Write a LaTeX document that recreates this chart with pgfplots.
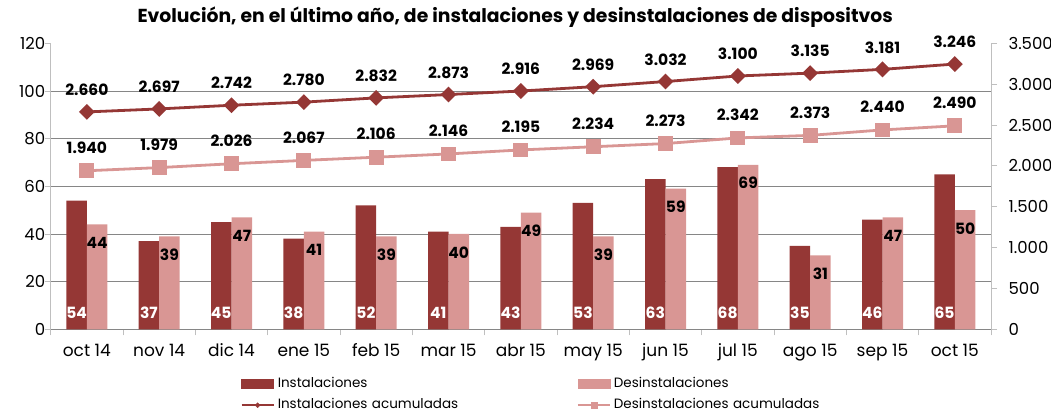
\documentclass[border=0pt]{standalone}
\usepackage{pgfplots}
\pgfplotsset{compat=1.18}
\usepackage{fontspec}
\setmainfont{Poppins}
\definecolor{dark}{HTML}{953735}
\definecolor{pinkc}{HTML}{D99694}
\definecolor{gridc}{HTML}{868686}
\definecolor{axc}{HTML}{BFBFBF}
\begin{document}
\begin{tikzpicture}[x=1pt,y=1pt]
\path[use as bounding box] (0,0) rectangle (1051,412);
\begin{axis}[
  at={(50.7pt,82.7pt)}, anchor=south west,
  scale only axis, width=940.3pt, height=286pt,
  xmin=-0.5, xmax=12.5, ymin=0, ymax=120,
  ybar=0pt, bar width=20.5pt,
  axis x line*=bottom, axis y line*=left,
  x axis line style={gridc, line width=0.8pt},
  y axis line style={axc, line width=0.8pt},
  tick align=outside,
  major tick length=6pt,
  ytick={0,20,...,120},
  y tick style={axc, line width=0.8pt},
  yticklabel style={xshift=4pt},
  extra y ticks={20,40,60,80,100},
  extra y tick labels={},
  extra y tick style={grid=major, major tick length=0pt},
  major grid style={gridc, line width=0.9pt},
  xtick={-0.5,0.5,...,12.5},
  xticklabels={},
  x tick style={axc, line width=0.8pt},
  extra x ticks={0,1,2,3,4,5,6,7,8,9,10,11,12},
  extra x tick labels={oct 14,nov 14,dic 14,ene 15,feb 15,mar 15,abr 15,may 15,jun 15,jul 15,ago 15,sep 15,oct 15},
  extra x tick style={major tick length=0pt, xticklabel style={yshift=-11pt, font=\fontsize{17}{19}\selectfont}},
  tick label style={font=\fontsize{16.5}{18}\selectfont},
  /pgf/number format/assume math mode=true,
  title={Evolución, en el último año, de instalaciones y desinstalaciones de dispositvos},
  title style={at={(0.494,1)}, anchor=base, yshift=15pt, font=\bfseries\fontsize{18.8}{21}\selectfont},
  clip=false,
]
\addplot[fill=dark, draw=none,
  nodes near coords,
  visualization depends on=y \as \rawy,
  every node near coord/.append style={text=white, font=\bfseries\fontsize{15.5}{18}\selectfont, anchor=center, shift={(axis direction cs:0,-\rawy)}, yshift=16.3pt}]
  coordinates {(0,54) (1,37) (2,45) (3,38) (4,52) (5,41) (6,43) (7,53) (8,63) (9,68) (10,35) (11,46) (12,65)};
\addplot[fill=pinkc, draw=none,
  nodes near coords,
  every node near coord/.append style={text=black, font=\bfseries\fontsize{15.5}{18}\selectfont, anchor=center, yshift=-18.3pt}]
  coordinates {(0,44) (1,39) (2,47) (3,41) (4,39) (5,40) (6,49) (7,39) (8,59) (9,69) (10,31) (11,47) (12,50)};
\end{axis}
\begin{axis}[
  at={(50.7pt,82.7pt)}, anchor=south west,
  scale only axis, width=940.3pt, height=286pt,
  xmin=-0.5, xmax=12.5, ymin=0, ymax=3500,
  axis x line=none, axis y line*=right,
  y axis line style={axc, line width=0.8pt},
  tick align=outside, major tick length=6pt,
  y tick style={axc, line width=0.8pt},
  ytick={0,500,...,3500},
  yticklabel style={xshift=8pt},
  tick label style={font=\fontsize{16.5}{18}\selectfont},
  /pgf/number format/.cd, 1000 sep={.}, assume math mode=true, /pgfplots/.cd,
  clip=false,
  legend columns=2,
  legend style={at={(0.1985,-0.1615)}, anchor=north west, draw=none, fill=none,
    font=\fontsize{13.5}{16}\selectfont,
    row sep=8pt,
    nodes={inner sep=0pt, inner xsep=3pt, text width=296pt, text height=10pt, text depth=3pt, align=left},
    /tikz/every even column/.append style={column sep=0pt}},
]
\addlegendimage{legend image code/.code={\fill[dark] (0pt,-4.5pt) rectangle (32pt,4.5pt);}}
\addlegendentry{Instalaciones}
\addlegendimage{legend image code/.code={\fill[pinkc] (0pt,-4.5pt) rectangle (32pt,4.5pt);}}
\addlegendentry{Desinstalaciones}
\addlegendimage{legend image code/.code={\draw[dark, line width=2.2pt] (0pt,0pt) -- (32pt,0pt); \fill[dark] (13.5pt,0pt) -- (16pt,2.5pt) -- (18.5pt,0pt) -- (16pt,-2.5pt) -- cycle;}}
\addlegendentry{Instalaciones acumuladas}
\addlegendimage{legend image code/.code={\draw[pinkc, line width=2.2pt] (0pt,0pt) -- (32pt,0pt); \fill[pinkc] (13pt,-3pt) rectangle (19pt,3pt);}}
\addlegendentry{Desinstalaciones acumuladas}
\addplot[forget plot, pinkc, line width=2.8pt, mark=square*, mark size=6pt, mark options={solid},
  nodes near coords,
  every node near coord/.append style={text=black, font=\bfseries\fontsize{15.5}{18}\selectfont, anchor=center, yshift=23pt}]
  coordinates {(0,1940) (1,1979) (2,2026) (3,2067) (4,2106) (5,2146) (6,2195) (7,2234) (8,2273) (9,2342) (10,2373) (11,2440) (12,2490)};
\addplot[forget plot, dark, line width=2.8pt, mark=square*, mark size=4.2pt, mark options={solid, rotate=45},
  nodes near coords,
  every node near coord/.append style={text=black, font=\bfseries\fontsize{15.5}{18}\selectfont, anchor=center, yshift=22pt, rotate=0}]
  coordinates {(0,2660) (1,2697) (2,2742) (3,2780) (4,2832) (5,2873) (6,2916) (7,2969) (8,3032) (9,3100) (10,3135) (11,3181) (12,3246)};
\end{axis}
\end{tikzpicture}
\end{document}
